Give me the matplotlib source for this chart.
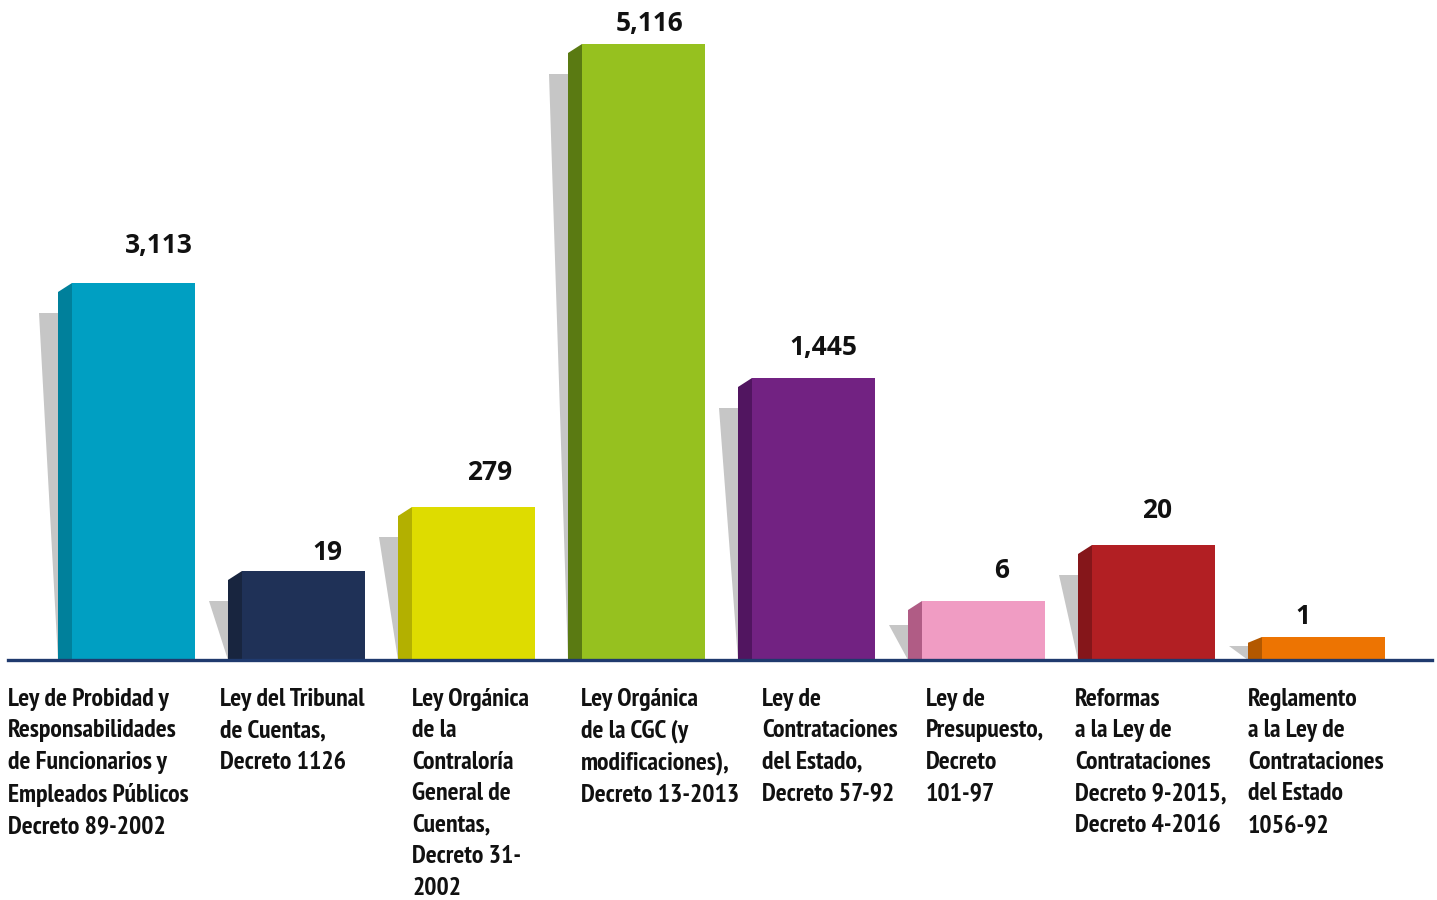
import matplotlib
matplotlib.use("Agg")
import matplotlib.pyplot as plt
from matplotlib.patches import Polygon

# values shown above each bar
values = [3113, 19, 279, 5116, 1445, 6, 20, 1]
# drawn bar heights (the chart is not to scale, heights)
bar_heights = [377, 89, 153, 616, 282, 59, 115, 23]
categories = [
    "Ley de Probidad y\nResponsabilidades\nde Funcionarios y\nEmpleados Públicos\nDecreto 89-2002",
    "Ley del Tribunal\nde Cuentas,\nDecreto 1126",
    "Ley Orgánica\nde la\nContraloría\nGeneral de\nCuentas,\nDecreto 31-\n2002",
    "Ley Orgánica\nde la CGC (y\nmodificaciones),\nDecreto 13-2013",
    "Ley de\nContrataciones\ndel Estado,\nDecreto 57-92",
    "Ley de\nPresupuesto,\nDecreto\n101-97",
    "Reformas\na la Ley de\nContrataciones\nDecreto 9-2015,\nDecreto 4-2016",
    "Reglamento\na la Ley de\nContrataciones\ndel Estado\n1056-92",
]
front_colors = ["#009FC2", "#1F3157", "#DEDC00", "#96C11F", "#722282", "#F09CC3", "#B21F23", "#ED7402"]
side_colors = ["#00809B", "#18253F", "#B3B000", "#5A7A12", "#511560", "#B05C85", "#85161A", "#B35800"]

# layout, in pixels
W, H = 1437, 900
step = 170.0          # pixels between bars
px = 1.0 / step       # one pixel in x data units
first_center = 133.5
base_px = 660
bar_w = 123 * px
side_w = 14 * px
shadow_w = 19 * px
val_dx = [25, 24, 16, 6, 10, 18, 4, -21]
val_dy = [38, 19, 35, 21, 30, 31, 35, 21]
cat_x = [8, 220, 412, 581, 762, 926, 1075, 1248]

fig = plt.figure(figsize=(W / 100, H / 100), dpi=100)
ax = fig.add_axes([0, 0, 1, 1])
ax.set_xlim(-first_center * px, (W - first_center) * px)
ax.set_ylim(-(H - base_px), base_px)
ax.axis("off")

xs = list(range(len(values)))

for i, h in enumerate(bar_heights):
    left = xs[i] - bar_w / 2
    # gray shadow behind the bar
    hs = h - min(30, h * 0.4)
    ax.add_patch(Polygon([(left - side_w - shadow_w, hs), (left - side_w, hs), (left - side_w, 0)],
                         closed=True, facecolor="#C6C6C6", edgecolor="none", zorder=1))
    # left side face
    drop = min(9, h * 0.25)
    ax.add_patch(Polygon([(left - side_w, 0), (left - side_w, h - drop), (left, h), (left, 0)],
                         closed=True, facecolor=side_colors[i], edgecolor="none", zorder=2))

ax.bar(xs, bar_heights, width=bar_w, color=front_colors, zorder=3)

ax.axhline(0, xmin=8 / W, xmax=1432 / W, color="#1F3A6E", lw=2.4, zorder=4)

for i, v in enumerate(values):
    ax.text(xs[i] + val_dx[i] * px, bar_heights[i] + val_dy[i], f"{v:,}",
            ha="center", va="center", fontsize=19, fontweight="bold",
            family=["Open Sans", "DejaVu Sans"], color="#111111")

for i, c in enumerate(categories):
    ax.text((cat_x[i] - first_center) * px, -28, c, ha="left", va="top",
            fontsize=18.5, fontweight="bold", linespacing=1.47,
            family=["PT Sans Narrow", "DejaVu Sans"], color="#111111")

fig.savefig("out.png", dpi=100)
